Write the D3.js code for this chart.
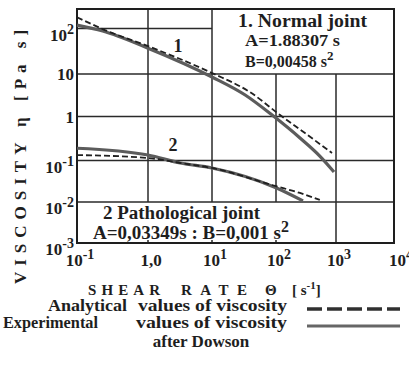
<!DOCTYPE html>
<html>
<head>
<meta charset="utf-8">
<script src="https://cdn.jsdelivr.net/npm/d3@7"></script>
<style>
  body { margin: 0; background: #fff; }
  text { font-family: "Liberation Serif", "Times New Roman", serif; font-weight: bold; fill: #1e1e1e; }
</style>
</head>
<body>
<div id="chart"></div>
<script>
// tick values and labels (base, superscript)
const shearTicks = [0.1, 1, 10, 100, 1000, 10000];
const shearLabels = [['10', '-1'], ['1,0', ''], ['10', '1'], ['10', '2'], ['10', '3'], ['10', '4']];
const viscTicks = [100, 10, 1, 0.1, 0.01, 0.001];
const viscLabels = [['10', '2'], ['10', ''], ['1', ''], ['10', '-1'], ['10', '-2'], ['10', '-3']];

// [shear rate 1/s, viscosity Pa s]
const normalExperimental = [[0.1, 119], [0.23, 88], [1, 37], [10, 8.5], [33, 3.2], [87, 1.08], [251, 0.325], [537, 0.126], [926, 0.053]];
const normalAnalytical = [[0.1, 179], [0.23, 97], [1, 41], [10, 10.5], [39, 3.77], [117, 1.08], [304, 0.42], [858, 0.148]];
const pathExperimental = [[0.1, 0.19], [1, 0.133], [3.2, 0.087], [10, 0.066], [100, 0.022], [282, 0.0106]];
const pathAnalytical = [[0.1, 0.133], [1, 0.114], [3.2, 0.087], [10, 0.066], [100, 0.024], [251, 0.0165], [537, 0.0112]];

const width = 409;
const height = 366;
const frame = {left: 77, top: 9, right: 394, bottom: 243};

const svg = d3.select('#chart').append('svg')
  .attr('width', width)
  .attr('height', height);

// the printed axes are not evenly spaced, so piecewise log scales
const x = d3.scaleLog()
  .domain(shearTicks)
  .range([77, 148, 212, 276, 336, 398]);
const y = d3.scaleLog()
  .domain([0.001, 0.01, 0.1, 1, 10, 100, 1000])
  .range([243, 202, 160.5, 116.5, 74, 28.5, -16]);

const grid = svg.append('g')
  .attr('stroke', '#2a2a2a')
  .attr('stroke-width', 1.5);

// horizontal grid lines
grid.append('line')
  .attr('x1', frame.left).attr('x2', x(10))
  .attr('y1', y(100)).attr('y2', y(100));
[10, 1, 0.1, 0.01].forEach(v => {
  grid.append('line')
    .attr('x1', frame.left).attr('x2', frame.right)
    .attr('y1', y(v)).attr('y2', y(v));
});

// vertical grid lines, cut by the legend boxes
[[1, frame.top, y(0.01)], [10, frame.top, y(0.01)], [100, y(10), y(0.01)], [1000, y(10), frame.bottom]]
  .forEach(([v, y1, y2]) => {
    grid.append('line')
      .attr('x1', x(v)).attr('x2', x(v))
      .attr('y1', y1).attr('y2', y2);
  });

// small ticks on bottom axis
[1, 10, 100].forEach(v => {
  grid.append('line')
    .attr('x1', x(v)).attr('x2', x(v))
    .attr('y1', frame.bottom - 3).attr('y2', frame.bottom);
});

svg.append('rect')
  .attr('x', frame.left)
  .attr('y', frame.top)
  .attr('width', frame.right - frame.left)
  .attr('height', frame.bottom - frame.top)
  .attr('fill', 'none')
  .attr('stroke', '#1e1e1e')
  .attr('stroke-width', 2);

// curves
const line = d3.line()
  .x(d => x(d[0]))
  .y(d => y(d[1]))
  .curve(d3.curveMonotoneX);

[normalExperimental, pathExperimental].forEach(data => {
  svg.append('path')
    .datum(data)
    .attr('d', line)
    .attr('fill', 'none')
    .attr('stroke', '#5c5c5c')
    .attr('stroke-width', 3.2);
});
[normalAnalytical, pathAnalytical].forEach(data => {
  svg.append('path')
    .datum(data)
    .attr('d', line)
    .attr('fill', 'none')
    .attr('stroke', '#202020')
    .attr('stroke-width', 1.8)
    .attr('stroke-dasharray', '6,3');
});

function powerLabel(g, base, sup, px, py, anchor, size) {
  const t = g.append('text')
    .attr('x', px)
    .attr('y', py)
    .attr('text-anchor', anchor)
    .style('font-size', size + 'px');
  t.append('tspan').text(base);
  if (sup) {
    t.append('tspan')
      .attr('dy', -7)
      .style('font-size', (size - 3) + 'px')
      .text(sup);
  }
  return t;
}

// stretched text, the scan uses a wider face than Times
function wideText(str, px, py, len, size) {
  return svg.append('text')
    .attr('x', px)
    .attr('y', py)
    .attr('textLength', len)
    .attr('lengthAdjust', 'spacingAndGlyphs')
    .style('font-size', size + 'px')
    .text(str);
}

// x tick labels
shearTicks.forEach((v, i) => {
  powerLabel(svg, shearLabels[i][0], shearLabels[i][1], x(v) + 3, 266, 'middle', 17);
});

// y tick labels
viscTicks.forEach((v, i) => {
  const [base, sup] = viscLabels[i];
  powerLabel(svg, base, sup, 74, sup ? y(v) + 12 : y(v) + 6, 'end', 17);
});

// axis titles
svg.append('text')
  .attr('transform', 'translate(26,154) rotate(-90)')
  .attr('text-anchor', 'middle')
  .style('font-size', '17px')
  .style('letter-spacing', '6px')
  .text('VISCOSITY η [Pa s]');

svg.append('text').attr('x', 88).attr('y', 295)
  .attr('textLength', 72).attr('lengthAdjust', 'spacing')
  .style('font-size', '15px').text('SHEAR');
svg.append('text').attr('x', 181).attr('y', 295)
  .attr('textLength', 66).attr('lengthAdjust', 'spacing')
  .style('font-size', '15px').text('RATE');
svg.append('text').attr('x', 265).attr('y', 295)
  .style('font-size', '15px').text('Θ');
const unit = svg.append('text').attr('x', 292).attr('y', 295)
  .style('font-size', '15px');
unit.append('tspan').text('[ s');
unit.append('tspan').attr('dy', -6).style('font-size', '11px').text('-1');
unit.append('tspan').attr('dy', 6).text(']');

// legend boxes inside the plot
wideText('1. Normal  joint', 238, 27, 129, 18);
wideText('A=1.88307 s', 245, 46, 95, 16);
powerLabel(svg, 'B=0,00458 s', '2', 245, 67, 'start', 16);

svg.append('text').attr('x', 178).attr('y', 52).attr('text-anchor', 'middle')
  .style('font-size', '18px').text('1');
svg.append('text').attr('x', 173).attr('y', 151).attr('text-anchor', 'middle')
  .style('font-size', '18px').text('2');

wideText('2 Pathological joint', 103, 219, 157, 18);
powerLabel(svg, 'A=0,03349s : B=0,001 s', '2', 93, 239, 'start', 19);

// bottom legend
wideText('Analytical', 48, 311, 79, 16);
wideText('values of viscosity', 138, 311, 149, 16);
wideText('Experimental', 3, 328, 95, 16);
wideText('values of viscosity', 136, 328, 151, 16);
svg.append('text').attr('x', 201).attr('y', 347).attr('text-anchor', 'middle')
  .style('font-size', '17px').text('after Dowson');

svg.append('line')
  .attr('x1', 307).attr('x2', 400).attr('y1', 309).attr('y2', 309)
  .attr('stroke', '#303030').attr('stroke-width', 3.5).attr('stroke-dasharray', '15,5');
svg.append('line')
  .attr('x1', 307).attr('x2', 400).attr('y1', 326).attr('y2', 326)
  .attr('stroke', '#666').attr('stroke-width', 3);
</script>
</body>
</html>
